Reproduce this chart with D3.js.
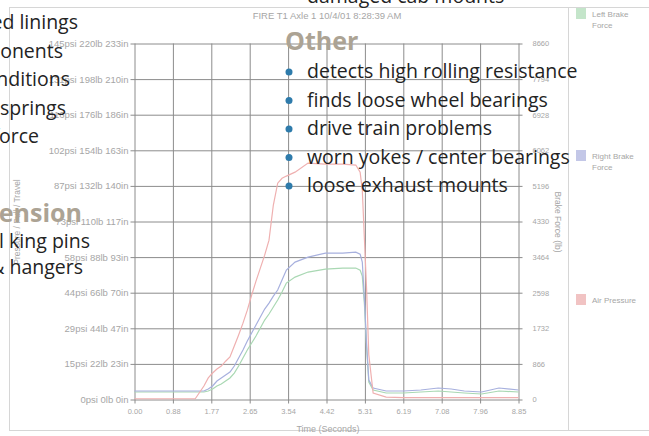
<!DOCTYPE html>
<html>
<head>
<meta charset="utf-8">
<script src="https://cdn.jsdelivr.net/npm/d3@7"></script>
<style>
body { margin: 0; background: #fff; }
svg { display: block; }
</style>
</head>
<body>
<script>
// samples (seconds)
let timeSec = [0, 0.5, 1.0, 1.4, 1.6, 1.7, 1.8, 1.9, 2.0, 2.1, 2.2, 2.3, 2.4, 2.5, 2.6, 2.7, 2.8, 2.9, 3.0, 3.1, 3.2, 3.3, 3.4, 3.5, 3.7, 4.0, 4.4, 4.8, 5.1, 5.2, 5.25, 5.3, 5.35, 5.4, 5.5, 5.8, 6.2, 6.6, 7.0, 7.3, 7.6, 8.0, 8.4, 8.85]
// psi
let airPressure = [0.3, 0.3, 0.3, 0.3, 5.5, 8.8, 10.8, 12.4, 13.6, 15.6, 17.3, 21.8, 26.3, 31.1, 36.4, 42.5, 48.2, 53.5, 58.8, 64.9, 79.2, 88.1, 90.1, 91, 92.6, 96.3, 95.9, 95.9, 95.5, 92.6, 85.3, 64.9, 44.6, 18.2, 2.6, 1.0, 0.8, 0.8, 0.8, 0.8, 0.8, 0.8, 0.8, 0.8]
// lb
let rightBrake = [207, 207, 207, 207, 207, 255, 328, 450, 523, 596, 669, 814, 1009, 1203, 1422, 1617, 1811, 2006, 2200, 2346, 2516, 2662, 2905, 3148, 3343, 3464, 3561, 3561, 3586, 3537, 3343, 2419, 1325, 474, 280, 207, 207, 231, 280, 255, 207, 182, 280, 231]
let leftBrake = [182, 182, 182, 182, 182, 207, 255, 328, 377, 450, 523, 644, 814, 1009, 1203, 1374, 1544, 1738, 1933, 2079, 2249, 2419, 2613, 2832, 2978, 3100, 3172, 3197, 3197, 3148, 3002, 2297, 1252, 425, 231, 158, 158, 182, 207, 182, 158, 134, 207, 182]

let timeTicks = [0, 0.885, 1.77, 2.655, 3.54, 4.425, 5.31, 6.195, 7.08, 7.965, 8.85]
let timeLabels = ['0.00', '0.88', '1.77', '2.65', '3.54', '4.42', '5.31', '6.19', '7.08', '7.96', '8.85']
let psiTicks = [0, 14.5, 29, 43.5, 58, 72.5, 87, 101.5, 116, 130.5, 145]
let leftLabels = ['0psi 0lb 0in', '15psi 22lb 23in', '29psi 44lb 47in', '44psi 66lb 70in', '58psi 88lb 93in',
	'73psi 110lb 117in', '87psi 132lb 140in', '102psi 154lb 163in', '116psi 176lb 186in', '131psi 198lb 210in', '145psi 220lb 233in']
let forceTicks = [0, 866, 1732, 2598, 3464, 4330, 5196, 6062, 6928, 7794, 8660]

let legendNames = [['Left Brake', 'Force'], ['Right Brake', 'Force'], ['Air Pressure']]
let legendColors = ['#c4e5ca', '#c3c7e7', '#f1c3c3']

let leftNotes = ['glazed linings', 'components', 'conditions', 'weak springs', 'brake force']
let otherNotes = ['detects high rolling resistance', 'finds loose wheel bearings', 'drive train problems', 'worn yokes / center bearings', 'loose exhaust mounts']

let W = 649, H = 436
let gridColor = '#8c8c8c'
let labelColor = '#a6a6a6'
let chartFont = 'Liberation Sans, Arial, sans-serif'

let svg = d3.select('body').append('svg')
	.attr('width', W).attr('height', H)
	.style('font-family', chartFont)

svg.append('rect').attr('width', W).attr('height', H).attr('fill', '#fff')

// screenshot frame + legend divider
svg.append('rect').attr('x', 9.5).attr('y', 7.5).attr('width', 660).attr('height', 423)
	.attr('fill', 'none').attr('stroke', '#d6d6d6')
svg.append('line').attr('x1', 568.5).attr('x2', 568.5).attr('y1', 7.5).attr('y2', 430.5)
	.attr('stroke', '#d6d6d6')

let x = d3.scaleLinear().domain([0, 8.85]).range([134.5, 518.5])
let yPsi = d3.scaleLinear().domain([0, 145]).range([399.5, 43.5])
let yForce = d3.scaleLinear().domain([0, 8660]).range([399.5, 43.5])

// left axis, its ticks run across as the horizontal grid
let gL = svg.append('g').attr('transform', `translate(${x(0)},0)`)
	.call(d3.axisLeft(yPsi).tickValues(psiTicks).tickFormat((d, i) => leftLabels[i]).tickSize(4).tickPadding(2))
gL.select('.domain').remove()
gL.selectAll('.tick line').attr('x1', x(8.85) - x(0) + 4).attr('x2', -4).attr('stroke', gridColor)
gL.selectAll('text').attr('fill', labelColor).style('font-size', '9.5px').style('font-family', chartFont)

// bottom axis, vertical grid
let gB = svg.append('g').attr('transform', `translate(0,${yPsi(0)})`)
	.call(d3.axisBottom(x).tickValues(timeTicks).tickFormat((d, i) => timeLabels[i]).tickSize(4).tickPadding(5))
gB.select('.domain').remove()
gB.selectAll('.tick line').attr('y1', yPsi(145) - yPsi(0)).attr('y2', 4).attr('stroke', gridColor)
gB.selectAll('text').attr('fill', labelColor).style('font-size', '7.5px').style('font-family', chartFont)

// right axis
let gR = svg.append('g').attr('transform', `translate(${x(8.85)},0)`)
	.call(d3.axisRight(yForce).tickValues(forceTicks).tickFormat(d3.format('d')).tickSize(4).tickPadding(10))
gR.select('.domain').remove()
gR.selectAll('.tick line').remove()
gR.selectAll('text').attr('fill', labelColor).style('font-size', '7.5px').style('font-family', chartFont)

// axis titles
svg.append('text').attr('x', 328).attr('y', 432).attr('text-anchor', 'middle')
	.attr('fill', labelColor).style('font-size', '9px').text('Time (Seconds)')
svg.append('text').attr('transform', 'translate(555,222) rotate(90)').attr('text-anchor', 'middle')
	.attr('fill', labelColor).style('font-size', '8.5px').text('Brake Force (lb)')
svg.append('text').attr('transform', 'translate(20,222) rotate(-90)').attr('text-anchor', 'middle')
	.attr('fill', labelColor).style('font-size', '8.5px').text('Pressure / Pull / Travel')

svg.append('text').attr('x', 327).attr('y', 19).attr('text-anchor', 'middle')
	.attr('fill', labelColor).style('font-size', '9.5px').text('FIRE T1 Axle 1 10/4/01 8:28:39 AM')

// series
let lineF = d3.line().x((d, i) => x(timeSec[i])).y(d => yForce(d))
let lineP = d3.line().x((d, i) => x(timeSec[i])).y(d => yPsi(d))

svg.append('path').attr('d', lineF(leftBrake)).attr('fill', 'none').attr('stroke', '#a9d8b3').attr('stroke-width', 1.2)
svg.append('path').attr('d', lineF(rightBrake)).attr('fill', 'none').attr('stroke', '#a7b0de').attr('stroke-width', 1.2)
svg.append('path').attr('d', lineP(airPressure)).attr('fill', 'none').attr('stroke', '#efb0b0').attr('stroke-width', 1.2)

// legend
let legendY = [8, 150, 294]
legendNames.forEach((names, i) => {
	svg.append('rect').attr('x', 576).attr('y', legendY[i]).attr('width', 10).attr('height', 11).attr('fill', legendColors[i])
	names.forEach((n, j) => {
		svg.append('text').attr('x', 592).attr('y', legendY[i] + 9 + j * 11)
			.attr('fill', labelColor).style('font-size', '8px').text(n)
	})
})

// brochure text laid over the screenshot
let noteFont = 'Open Sans, Noto Sans, sans-serif'
let noteColor = '#232323'
let headColor = '#aca394'
let noteSize = '19.5px'
let headSize = '25px'

let leftEnds = [78, 63, 70, 66, 39]
leftNotes.forEach((t, i) => {
	svg.append('text').attr('x', leftEnds[i]).attr('y', 29 + i * 28.5).attr('text-anchor', 'end')
		.attr('fill', noteColor).style('font-family', noteFont).style('font-size', noteSize).text(t)
})
svg.append('text').attr('x', 82).attr('y', 222).attr('text-anchor', 'end')
	.attr('fill', headColor).style('font-family', noteFont).style('font-size', headSize).style('font-weight', 'bold').text('Suspension')
svg.append('text').attr('x', 90).attr('y', 248).attr('text-anchor', 'end')
	.attr('fill', noteColor).style('font-family', noteFont).style('font-size', noteSize).text('steel king pins')
svg.append('text').attr('x', 83).attr('y', 274).attr('text-anchor', 'end')
	.attr('fill', noteColor).style('font-family', noteFont).style('font-size', noteSize).text('shackles & hangers')

svg.append('text').attr('x', 307).attr('y', 3)
	.attr('fill', noteColor).style('font-family', noteFont).style('font-size', noteSize).text('damaged cab mounts')

svg.append('text').attr('x', 285).attr('y', 50)
	.attr('fill', headColor).style('font-family', noteFont).style('font-size', headSize).style('font-weight', 'bold').text('Other')

otherNotes.forEach((t, i) => {
	let cy = 72 + i * 28.5
	svg.append('circle').attr('cx', 289).attr('cy', cy).attr('r', 3.5).attr('fill', '#2e7bab')
	svg.append('text').attr('x', 307).attr('y', cy + 6)
		.attr('fill', noteColor).style('font-family', noteFont).style('font-size', noteSize).text(t)
})
</script>
</body>
</html>
